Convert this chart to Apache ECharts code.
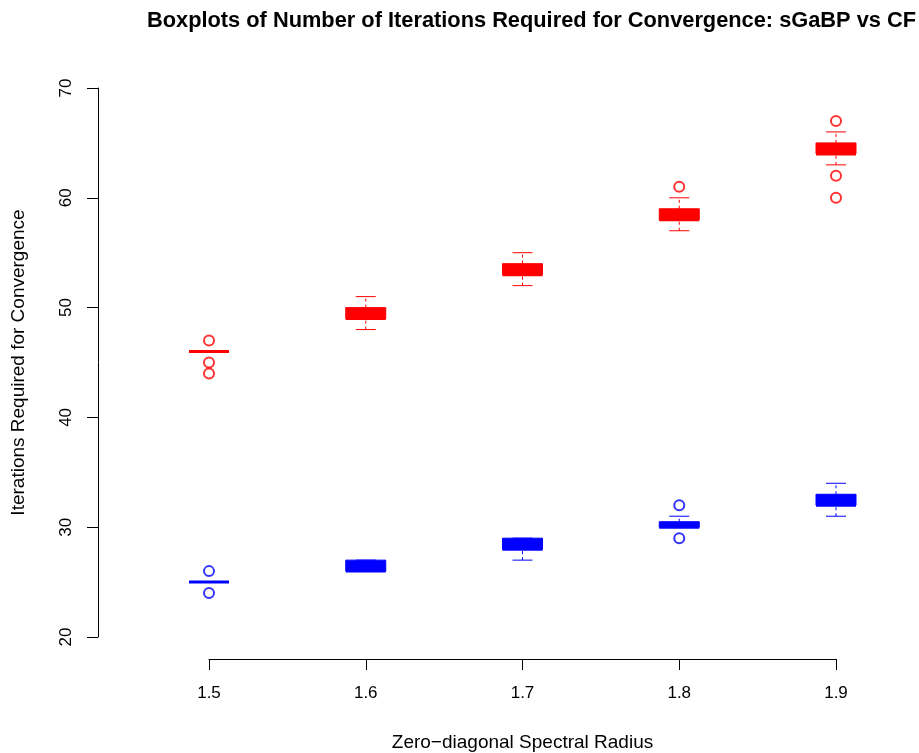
<!DOCTYPE html>
<html>
<head>
<meta charset="utf-8">
<script src="https://cdn.jsdelivr.net/npm/echarts@6/dist/echarts.min.js"></script>
<style>html,body{margin:0;padding:0;background:#fff;}#c{width:919px;height:753px;}</style>
</head>
<body>
<div id="c"></div>
<script>
// Zero-diagonal spectral radius (x positions)
const radius = [1.5, 1.6, 1.7, 1.8, 1.9];
// Box statistics per radius: [lower whisker, Q1, median, Q3, upper whisker]
const cfLow   = [46, 48, 52, 57, 63];
const cfQ1    = [46, 49, 53, 58, 64];
const cfMed   = [46, 49, 53, 58, 64];
const cfQ3    = [46, 50, 54, 59, 65];
const cfHigh  = [46, 51, 55, 60, 66];
const sgLow   = [25, 26, 27, 30, 31];
const sgQ1    = [25, 26, 28, 30, 32];
const sgMed   = [25, 26, 28, 30, 32];
const sgQ3    = [25, 27, 29, 30.5, 33];
const sgHigh  = [25, 27, 29, 31, 34];
// Outliers: x positions and values
const cfOutX  = [1.5, 1.5, 1.5, 1.8, 1.9, 1.9, 1.9];
const cfOutY  = [47, 45, 44, 61, 67, 62, 60];
const sgOutX  = [1.5, 1.5, 1.8, 1.8];
const sgOutY  = [26, 24, 32, 29];
// Axis ticks
const yTicks = [20, 30, 40, 50, 60, 70];

function boxData(low, q1, med, q3, high) {
  return radius.map((r, i) => [r, low[i], q1[i], med[i], q3[i], high[i]]);
}
function pts(xs, ys) { return xs.map((x, i) => [x, ys[i]]); }

function makeRender(color) {
  return function (params, api) {
    const x = api.value(0);
    const pL = api.coord([x, api.value(1)]);
    const p1 = api.coord([x, api.value(2)]);
    const pM = api.coord([x, api.value(3)]);
    const p3 = api.coord([x, api.value(4)]);
    const pH = api.coord([x, api.value(5)]);
    const cx = pM[0];
    const hb = 20, hc = 10;
    const dash = { stroke: color, lineWidth: 1, lineDash: [3, 3] };
    const solid = { stroke: color, lineWidth: 1 };
    return {
      type: 'group',
      children: [
        { type: 'line', shape: { x1: cx, y1: pL[1], x2: cx, y2: p1[1] }, style: dash },
        { type: 'line', shape: { x1: cx, y1: p3[1], x2: cx, y2: pH[1] }, style: dash },
        { type: 'line', shape: { x1: cx - hc, y1: pL[1], x2: cx + hc, y2: pL[1] }, style: solid },
        { type: 'line', shape: { x1: cx - hc, y1: pH[1], x2: cx + hc, y2: pH[1] }, style: solid },
        { type: 'rect', shape: { x: cx - hb, y: p3[1], width: 2 * hb, height: p1[1] - p3[1] },
          style: { fill: color, stroke: color, lineWidth: 1 } },
        { type: 'line', shape: { x1: cx - hb, y1: pM[1], x2: cx + hb, y2: pM[1] },
          style: { stroke: color, lineWidth: 3 } }
      ]
    };
  };
}

const font = 'Liberation Sans, Arial, Helvetica, sans-serif';
const chart = echarts.init(document.getElementById('c'), null, { renderer: 'canvas' });
chart.setOption({
  animation: false,
  backgroundColor: '#ffffff',
  title: {
    text: 'Boxplots of Number of Iterations Required for Convergence: sGaBP vs CF',
    left: 142, top: 5,
    textStyle: { fontFamily: font, fontSize: 21.8, fontWeight: 'bold', color: '#000' }
  },
  grid: { left: 209, right: 83, top: 88, bottom: 116, containLabel: false, outerBoundsMode: 'none' },
  xAxis: {
    type: 'value', min: 1.5, max: 1.9, interval: 0.1,
    offset: 22,
    name: 'Zero\u2212diagonal Spectral Radius',
    nameLocation: 'middle', nameGap: 74,
    nameTextStyle: { fontFamily: font, fontSize: 19, color: '#000' },
    axisLine: { show: true, lineStyle: { color: '#000', width: 1 } },
    axisTick: { show: true, length: 11, lineStyle: { color: '#000' } },
    axisLabel: { margin: 26, fontFamily: font, fontSize: 17, color: '#000',
      formatter: v => Number(v).toFixed(1) },
    splitLine: { show: false }
  },
  yAxis: {
    type: 'value', min: yTicks[0], max: yTicks[yTicks.length - 1], interval: 10,
    offset: 111,
    name: 'Iterations Required for Convergence',
    nameLocation: 'middle', nameGap: 70,
    nameTextStyle: { fontFamily: font, fontSize: 19, color: '#000' },
    axisLine: { show: true, lineStyle: { color: '#000', width: 1 } },
    axisTick: { show: true, length: 11, lineStyle: { color: '#000' } },
    axisLabel: { rotate: 90, margin: 23, fontFamily: font, fontSize: 17, color: '#000' },
    splitLine: { show: false }
  },
  series: [
    { type: 'custom', name: 'CF', renderItem: makeRender('#ff0000'),
      encode: { x: 0, y: [1, 2, 3, 4, 5] }, clip: false,
      data: boxData(cfLow, cfQ1, cfMed, cfQ3, cfHigh) },
    { type: 'custom', name: 'sGaBP', renderItem: makeRender('#0000ff'),
      encode: { x: 0, y: [1, 2, 3, 4, 5] }, clip: false,
      data: boxData(sgLow, sgQ1, sgMed, sgQ3, sgHigh) },
    { type: 'scatter', symbol: 'emptyCircle', symbolSize: 10, clip: false,
      itemStyle: { color: '#ff0000', borderColor: '#ff0000', borderWidth: 1.6 },
      data: pts(cfOutX, cfOutY) },
    { type: 'scatter', symbol: 'emptyCircle', symbolSize: 10, clip: false,
      itemStyle: { color: '#0000ff', borderColor: '#0000ff', borderWidth: 1.6 },
      data: pts(sgOutX, sgOutY) }
  ]
});
</script>
</body>
</html>
